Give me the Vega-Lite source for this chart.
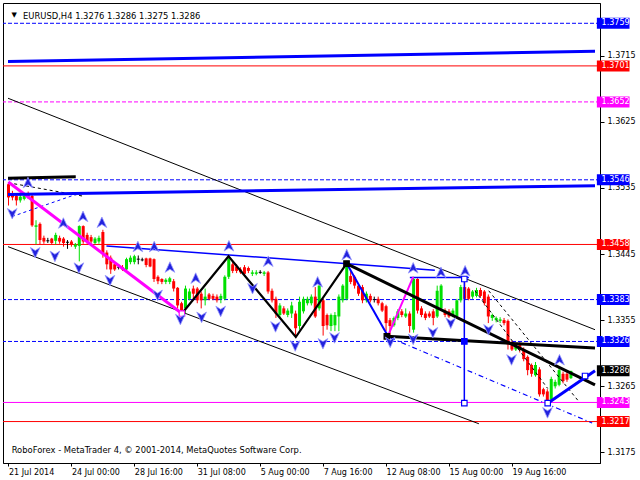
{
  "$schema": "https://vega.github.io/schema/vega-lite/v6.json",
  "width": 597,
  "height": 460,
  "autosize": "none",
  "padding": {"left": 3, "top": 3, "right": 40, "bottom": 17},
  "background": "#ffffff",
  "config": {
    "view": {"stroke": "#000000", "strokeWidth": 1},
    "font": "DejaVu Sans",
    "axis": {"grid": false, "domainColor": "#000000", "tickColor": "#000000", "labelColor": "#000000", "labelFont": "DejaVu Sans", "labelFontSize": 8, "title": null}
  },
  "datasets": {
    "candles": [
      {"t":0,"o":1.3540,"h":1.3543,"l":1.3511,"c":1.3522},
      {"t":1,"o":1.3526,"h":1.3531,"l":1.3518,"c":1.3522},
      {"t":2,"o":1.3524,"h":1.3527,"l":1.3511,"c":1.3518},
      {"t":3,"o":1.3518,"h":1.3526,"l":1.3515,"c":1.3523},
      {"t":4,"o":1.3520,"h":1.3527,"l":1.3518,"c":1.3524},
      {"t":5,"o":1.3527,"h":1.3530,"l":1.3520,"c":1.3523},
      {"t":6,"o":1.3524,"h":1.3526,"l":1.3482,"c":1.3484},
      {"t":7,"o":1.3482,"h":1.3491,"l":1.3458,"c":1.3484},
      {"t":8,"o":1.3486,"h":1.3488,"l":1.3458,"c":1.3464},
      {"t":9,"o":1.3467,"h":1.3470,"l":1.3459,"c":1.3462},
      {"t":10,"o":1.3463,"h":1.3467,"l":1.3460,"c":1.3463},
      {"t":11,"o":1.3466,"h":1.3467,"l":1.3458,"c":1.3460},
      {"t":12,"o":1.3463,"h":1.3474,"l":1.3458,"c":1.3471},
      {"t":13,"o":1.3467,"h":1.3470,"l":1.3459,"c":1.3462},
      {"t":14,"o":1.3466,"h":1.3468,"l":1.3455,"c":1.3460},
      {"t":15,"o":1.3461,"h":1.3464,"l":1.3452,"c":1.3461},
      {"t":16,"o":1.3462,"h":1.3464,"l":1.3455,"c":1.3458},
      {"t":17,"o":1.3455,"h":1.3460,"l":1.3452,"c":1.3458},
      {"t":18,"o":1.3456,"h":1.3484,"l":1.3435,"c":1.3483},
      {"t":19,"o":1.3483,"h":1.3484,"l":1.3459,"c":1.3462},
      {"t":20,"o":1.3471,"h":1.3474,"l":1.3459,"c":1.3462},
      {"t":21,"o":1.3468,"h":1.3471,"l":1.3459,"c":1.3462},
      {"t":22,"o":1.3460,"h":1.3468,"l":1.3458,"c":1.3466},
      {"t":23,"o":1.3462,"h":1.3470,"l":1.3459,"c":1.3467},
      {"t":24,"o":1.3475,"h":1.3478,"l":1.3440,"c":1.3446},
      {"t":25,"o":1.3447,"h":1.3450,"l":1.3424,"c":1.3431},
      {"t":26,"o":1.3440,"h":1.3443,"l":1.3418,"c":1.3424},
      {"t":27,"o":1.3431,"h":1.3434,"l":1.3422,"c":1.3424},
      {"t":28,"o":1.3427,"h":1.3431,"l":1.3424,"c":1.3427},
      {"t":29,"o":1.3427,"h":1.3430,"l":1.3422,"c":1.3424},
      {"t":30,"o":1.3424,"h":1.3440,"l":1.3422,"c":1.3438},
      {"t":31,"o":1.3434,"h":1.3443,"l":1.3431,"c":1.3440},
      {"t":32,"o":1.3434,"h":1.3444,"l":1.3431,"c":1.3442},
      {"t":33,"o":1.3438,"h":1.3443,"l":1.3431,"c":1.3438},
      {"t":34,"o":1.3437,"h":1.3440,"l":1.3435,"c":1.3437},
      {"t":35,"o":1.3439,"h":1.3440,"l":1.3427,"c":1.3430},
      {"t":36,"o":1.3439,"h":1.3440,"l":1.3427,"c":1.3428},
      {"t":37,"o":1.3438,"h":1.3439,"l":1.3407,"c":1.3411},
      {"t":38,"o":1.3414,"h":1.3416,"l":1.3404,"c":1.3408},
      {"t":39,"o":1.3411,"h":1.3412,"l":1.3404,"c":1.3407},
      {"t":40,"o":1.3407,"h":1.3412,"l":1.3404,"c":1.3410},
      {"t":41,"o":1.3407,"h":1.3414,"l":1.3404,"c":1.3412},
      {"t":42,"o":1.3408,"h":1.3411,"l":1.3394,"c":1.3398},
      {"t":43,"o":1.3399,"h":1.3400,"l":1.3371,"c":1.3375},
      {"t":44,"o":1.3378,"h":1.3380,"l":1.3363,"c":1.3368},
      {"t":45,"o":1.3371,"h":1.3402,"l":1.3364,"c":1.3398},
      {"t":46,"o":1.3384,"h":1.3398,"l":1.3382,"c":1.3394},
      {"t":47,"o":1.3398,"h":1.3402,"l":1.3384,"c":1.3391},
      {"t":48,"o":1.3398,"h":1.3400,"l":1.3378,"c":1.3382},
      {"t":49,"o":1.3391,"h":1.3394,"l":1.3371,"c":1.3382},
      {"t":50,"o":1.3382,"h":1.3398,"l":1.3375,"c":1.3387},
      {"t":51,"o":1.3390,"h":1.3392,"l":1.3382,"c":1.3384},
      {"t":52,"o":1.3388,"h":1.3391,"l":1.3382,"c":1.3384},
      {"t":53,"o":1.3387,"h":1.3390,"l":1.3379,"c":1.3382},
      {"t":54,"o":1.3384,"h":1.3391,"l":1.3378,"c":1.3388},
      {"t":55,"o":1.3384,"h":1.3416,"l":1.3382,"c":1.3414},
      {"t":56,"o":1.3414,"h":1.3442,"l":1.3411,"c":1.3438},
      {"t":57,"o":1.3431,"h":1.3434,"l":1.3419,"c":1.3422},
      {"t":58,"o":1.3428,"h":1.3431,"l":1.3419,"c":1.3422},
      {"t":59,"o":1.3424,"h":1.3427,"l":1.3418,"c":1.3420},
      {"t":60,"o":1.3427,"h":1.3430,"l":1.3415,"c":1.3418},
      {"t":61,"o":1.3426,"h":1.3428,"l":1.3419,"c":1.3422},
      {"t":62,"o":1.3418,"h":1.3423,"l":1.3415,"c":1.3420},
      {"t":63,"o":1.3418,"h":1.3423,"l":1.3416,"c":1.3420},
      {"t":64,"o":1.3420,"h":1.3423,"l":1.3418,"c":1.3420},
      {"t":65,"o":1.3418,"h":1.3422,"l":1.3415,"c":1.3420},
      {"t":66,"o":1.3420,"h":1.3422,"l":1.3391,"c":1.3394},
      {"t":67,"o":1.3395,"h":1.3398,"l":1.3379,"c":1.3382},
      {"t":68,"o":1.3384,"h":1.3387,"l":1.3358,"c":1.3364},
      {"t":69,"o":1.3362,"h":1.3378,"l":1.3358,"c":1.3375},
      {"t":70,"o":1.3371,"h":1.3374,"l":1.3362,"c":1.3364},
      {"t":71,"o":1.3362,"h":1.3371,"l":1.3359,"c":1.3368},
      {"t":72,"o":1.3364,"h":1.3380,"l":1.3358,"c":1.3375},
      {"t":73,"o":1.3364,"h":1.3368,"l":1.3331,"c":1.3344},
      {"t":74,"o":1.3347,"h":1.3387,"l":1.3342,"c":1.3380},
      {"t":75,"o":1.3367,"h":1.3387,"l":1.3364,"c":1.3384},
      {"t":76,"o":1.3378,"h":1.3387,"l":1.3375,"c":1.3384},
      {"t":77,"o":1.3378,"h":1.3390,"l":1.3375,"c":1.3387},
      {"t":78,"o":1.3387,"h":1.3400,"l":1.3358,"c":1.3360},
      {"t":79,"o":1.3371,"h":1.3406,"l":1.3368,"c":1.3402},
      {"t":80,"o":1.3382,"h":1.3384,"l":1.3334,"c":1.3347},
      {"t":81,"o":1.3362,"h":1.3364,"l":1.3342,"c":1.3348},
      {"t":82,"o":1.3347,"h":1.3364,"l":1.3340,"c":1.3362},
      {"t":83,"o":1.3348,"h":1.3366,"l":1.3340,"c":1.3362},
      {"t":84,"o":1.3360,"h":1.3390,"l":1.3340,"c":1.3387},
      {"t":85,"o":1.3382,"h":1.3404,"l":1.3379,"c":1.3402},
      {"t":86,"o":1.3384,"h":1.3434,"l":1.3382,"c":1.3428},
      {"t":87,"o":1.3415,"h":1.3422,"l":1.3404,"c":1.3407},
      {"t":88,"o":1.3414,"h":1.3416,"l":1.3398,"c":1.3402},
      {"t":89,"o":1.3402,"h":1.3404,"l":1.3388,"c":1.3391},
      {"t":90,"o":1.3400,"h":1.3403,"l":1.3378,"c":1.3382},
      {"t":91,"o":1.3382,"h":1.3394,"l":1.3379,"c":1.3391},
      {"t":92,"o":1.3388,"h":1.3391,"l":1.3379,"c":1.3382},
      {"t":93,"o":1.3383,"h":1.3387,"l":1.3379,"c":1.3383},
      {"t":94,"o":1.3384,"h":1.3387,"l":1.3375,"c":1.3378},
      {"t":95,"o":1.3378,"h":1.3380,"l":1.3366,"c":1.3368},
      {"t":96,"o":1.3374,"h":1.3376,"l":1.3340,"c":1.3351},
      {"t":97,"o":1.3355,"h":1.3358,"l":1.3334,"c":1.3347},
      {"t":98,"o":1.3348,"h":1.3360,"l":1.3346,"c":1.3358},
      {"t":99,"o":1.3358,"h":1.3370,"l":1.3355,"c":1.3367},
      {"t":100,"o":1.3367,"h":1.3370,"l":1.3359,"c":1.3362},
      {"t":101,"o":1.3360,"h":1.3371,"l":1.3358,"c":1.3364},
      {"t":102,"o":1.3364,"h":1.3367,"l":1.3338,"c":1.3347},
      {"t":103,"o":1.3342,"h":1.3414,"l":1.3338,"c":1.3411},
      {"t":104,"o":1.3411,"h":1.3412,"l":1.3364,"c":1.3368},
      {"t":105,"o":1.3371,"h":1.3374,"l":1.3359,"c":1.3362},
      {"t":106,"o":1.3364,"h":1.3367,"l":1.3355,"c":1.3358},
      {"t":107,"o":1.3364,"h":1.3367,"l":1.3358,"c":1.3360},
      {"t":108,"o":1.3367,"h":1.3370,"l":1.3348,"c":1.3358},
      {"t":109,"o":1.3360,"h":1.3402,"l":1.3358,"c":1.3395},
      {"t":110,"o":1.3371,"h":1.3404,"l":1.3368,"c":1.3402},
      {"t":111,"o":1.3368,"h":1.3371,"l":1.3359,"c":1.3362},
      {"t":112,"o":1.3367,"h":1.3370,"l":1.3358,"c":1.3360},
      {"t":113,"o":1.3362,"h":1.3371,"l":1.3359,"c":1.3368},
      {"t":114,"o":1.3360,"h":1.3384,"l":1.3358,"c":1.3382},
      {"t":115,"o":1.3382,"h":1.3403,"l":1.3379,"c":1.3400},
      {"t":116,"o":1.3400,"h":1.3414,"l":1.3382,"c":1.3384},
      {"t":117,"o":1.3398,"h":1.3400,"l":1.3382,"c":1.3384},
      {"t":118,"o":1.3387,"h":1.3396,"l":1.3384,"c":1.3394},
      {"t":119,"o":1.3388,"h":1.3399,"l":1.3386,"c":1.3396},
      {"t":120,"o":1.3396,"h":1.3399,"l":1.3386,"c":1.3388},
      {"t":121,"o":1.3394,"h":1.3396,"l":1.3375,"c":1.3378},
      {"t":122,"o":1.3387,"h":1.3390,"l":1.3351,"c":1.3360},
      {"t":123,"o":1.3358,"h":1.3364,"l":1.3354,"c":1.3362},
      {"t":124,"o":1.3355,"h":1.3360,"l":1.3352,"c":1.3358},
      {"t":125,"o":1.3354,"h":1.3359,"l":1.3351,"c":1.3356},
      {"t":126,"o":1.3355,"h":1.3358,"l":1.3348,"c":1.3351},
      {"t":127,"o":1.3354,"h":1.3356,"l":1.3315,"c":1.3322},
      {"t":128,"o":1.3325,"h":1.3327,"l":1.3313,"c":1.3315},
      {"t":129,"o":1.3315,"h":1.3323,"l":1.3313,"c":1.3321},
      {"t":130,"o":1.3322,"h":1.3325,"l":1.3311,"c":1.3315},
      {"t":131,"o":1.3315,"h":1.3318,"l":1.3299,"c":1.3302},
      {"t":132,"o":1.3305,"h":1.3307,"l":1.3280,"c":1.3287},
      {"t":133,"o":1.3294,"h":1.3296,"l":1.3278,"c":1.3282},
      {"t":134,"o":1.3280,"h":1.3298,"l":1.3278,"c":1.3294},
      {"t":135,"o":1.3288,"h":1.3291,"l":1.3251,"c":1.3254},
      {"t":136,"o":1.3261,"h":1.3263,"l":1.3251,"c":1.3254},
      {"t":137,"o":1.3258,"h":1.3261,"l":1.3241,"c":1.3245},
      {"t":138,"o":1.3247,"h":1.3278,"l":1.3245,"c":1.3275},
      {"t":139,"o":1.3265,"h":1.3274,"l":1.3262,"c":1.3271},
      {"t":140,"o":1.3267,"h":1.3291,"l":1.3265,"c":1.3287},
      {"t":141,"o":1.3282,"h":1.3285,"l":1.3269,"c":1.3272},
      {"t":142,"o":1.3282,"h":1.3285,"l":1.3271,"c":1.3274},
      {"t":143,"o":1.3276,"h":1.3286,"l":1.3275,"c":1.3286}
    ],
    "levels": [
      {"p":1.3759,"kind":"level"},
      {"p":1.3701,"kind":"stop"},
      {"p":1.3652,"kind":"target"},
      {"p":1.3546,"kind":"level"},
      {"p":1.3458,"kind":"stop"},
      {"p":1.3383,"kind":"level"},
      {"p":1.3326,"kind":"level"},
      {"p":1.3286,"kind":"bid"},
      {"p":1.3243,"kind":"final"},
      {"p":1.3217,"kind":"stop"}
    ],
    "blueTrend": [
      {"id":"a","t":-0.125,"p":1.3707},{"id":"a","t":149.125,"p":1.3721},
      {"id":"b","t":-0.125,"p":1.3526},{"id":"b","t":149.125,"p":1.3538},
      {"id":"c","t":137.1,"p":1.3242},{"id":"c","t":149.125,"p":1.3286}
    ],
    "blueThin": [
      {"id":"a","t":24.9,"p":1.3456},{"id":"a","t":108.4,"p":1.3423},
      {"id":"b","t":102.05,"p":1.3413},{"id":"b","t":117.05,"p":1.3413},
      {"id":"c","t":115.9,"p":1.3414},{"id":"c","t":115.9,"p":1.3242}
    ],
    "blueWave": [
      {"id":"a","t":86.1,"p":1.3431},{"id":"a","t":96.4,"p":1.3334}
    ],
    "blackWave": [
      {"id":"a","t":44.1,"p":1.3364},{"id":"a","t":55.95,"p":1.3442},{"id":"a","t":73.05,"p":1.3332},{"id":"a","t":85.95,"p":1.3432}
    ],
    "blackTrend": [
      {"id":"a","t":-0.125,"p":1.3548},{"id":"a","t":17.1,"p":1.3550},
      {"id":"b","t":85.95,"p":1.3432},{"id":"b","t":149.125,"p":1.3267},
      {"id":"c","t":96.2,"p":1.3333},{"id":"c","t":149.125,"p":1.3317}
    ],
    "channel": [
      {"id":"a","t":-0.125,"p":1.3657},{"id":"a","t":149.125,"p":1.3342},
      {"id":"b","t":-0.125,"p":1.3455},{"id":"b","t":119.6,"p":1.3214}
    ],
    "pinkTrend": [
      {"id":"a","t":-0.05,"p":1.3543},{"id":"a","t":44.1,"p":1.3364}
    ],
    "pinkWave": [
      {"id":"a","t":96.6,"p":1.3335},{"id":"a","t":102.9,"p":1.3414}
    ],
    "blackDash": [
      {"id":"a","t":-0.05,"p":1.3542},{"id":"a","t":18.7,"p":1.3524},
      {"id":"b","t":118.6,"p":1.3395},{"id":"b","t":137.1,"p":1.3262},
      {"id":"c","t":122.1,"p":1.3395},{"id":"c","t":144.9,"p":1.3245}
    ],
    "blueDash": [
      {"id":"a","t":0.9,"p":1.3496},{"id":"a","t":17.1,"p":1.3526}
    ],
    "blueDashDot": [
      {"id":"a","t":97.05,"p":1.3331},{"id":"a","t":148.4,"p":1.3215}
    ],
    "anchors": [
      {"t":115.9,"p":1.3411,"kind":"blue"},
      {"t":115.9,"p":1.3242,"kind":"blue"},
      {"t":137.1,"p":1.3242,"kind":"blue"},
      {"t":146.6,"p":1.3279,"kind":"blue"},
      {"t":115.9,"p":1.3326,"kind":"bluefill"},
      {"t":85.95,"p":1.3432,"kind":"black"},
      {"t":96.2,"p":1.3333,"kind":"black"},
      {"t":44.1,"p":1.3364,"kind":"pink"}
    ],
    "fractals": [
      {"t":4.95,"p":1.3542,"dir":"up"},{"t":13.95,"p":1.3487,"dir":"up"},{"t":18.95,"p":1.3496,"dir":"up"},
      {"t":23.75,"p":1.3488,"dir":"up"},{"t":32.9,"p":1.3455,"dir":"up"},{"t":37.05,"p":1.3455,"dir":"up"},
      {"t":41.05,"p":1.3427,"dir":"up"},{"t":47.6,"p":1.3412,"dir":"up"},{"t":56.05,"p":1.3456,"dir":"up"},
      {"t":66.05,"p":1.3435,"dir":"up"},{"t":78.6,"p":1.3407,"dir":"up"},{"t":86,"p":1.3444,"dir":"up"},
      {"t":102.9,"p":1.3426,"dir":"up"},{"t":109.95,"p":1.3420,"dir":"up"},{"t":116.1,"p":1.3422,"dir":"up"},
      {"t":140.1,"p":1.3301,"dir":"up"},
      {"t":0.95,"p":1.3500,"dir":"down"},{"t":6.8,"p":1.3447,"dir":"down"},{"t":11.8,"p":1.3442,"dir":"down"},
      {"t":17.9,"p":1.3426,"dir":"down"},{"t":25.8,"p":1.3409,"dir":"down"},{"t":37.9,"p":1.3389,"dir":"down"},
      {"t":43.7,"p":1.3356,"dir":"down"},{"t":49.1,"p":1.3359,"dir":"down"},{"t":53.95,"p":1.3367,"dir":"down"},
      {"t":62.05,"p":1.3398,"dir":"down"},{"t":67.9,"p":1.3346,"dir":"down"},{"t":72.9,"p":1.3320,"dir":"down"},
      {"t":79.95,"p":1.3323,"dir":"down"},{"t":82.9,"p":1.3331,"dir":"down"},{"t":97.05,"p":1.3325,"dir":"down"},
      {"t":102.9,"p":1.3329,"dir":"down"},{"t":107.9,"p":1.3338,"dir":"down"},{"t":112.45,"p":1.3351,"dir":"down"},
      {"t":122.05,"p":1.3342,"dir":"down"},{"t":127.9,"p":1.3301,"dir":"down"},{"t":137.05,"p":1.3229,"dir":"down"}
    ]
  },
  "layer": [
    {
      "data": {"name": "levels"},
      "transform": [{"filter": "datum.kind != 'bid'"}],
      "mark": {"type": "rule", "strokeWidth": 1},
      "encoding": {
        "y": {"field": "p", "type": "quantitative", "scale": {"domain": [1.31674, 1.37798], "nice": false, "zero": false},
          "axis": {"orient": "right", "values": [1.3760, 1.3715, 1.3670, 1.3625, 1.3580, 1.3535, 1.3490, 1.3445, 1.3400, 1.3355, 1.3310, 1.3265, 1.3220, 1.3175], "format": ".4f", "tickSize": 4, "labelPadding": 3, "labelFontSize": 8, "title": null}},
        "color": {"field": "kind", "type": "nominal", "scale": {"domain": ["level", "stop", "target", "final", "bid"], "range": ["#0000ff", "#ff0000", "#ff00ff", "#ff00ff", "#000000"]}, "legend": null},
        "strokeDash": {"field": "kind", "type": "nominal", "scale": {"domain": ["level", "stop", "target", "final"], "range": [[4, 2], [1, 0], [4, 2], [1, 0]]}, "legend": null}
      }
    },
    {
      "data": {"name": "candles"},
      "mark": {"type": "rule", "strokeWidth": 1, "clip": true},
      "encoding": {
        "x": {"field": "t", "type": "quantitative", "scale": {"domain": [-0.125, 149.125], "nice": false, "zero": false},
          "axis": {"values": [0, 16, 32, 48, 64, 80, 96, 112, 128], "labelExpr": "['21 Jul 2014','24 Jul 00:00','28 Jul 16:00','31 Jul 08:00','5 Aug 00:00','7 Aug 16:00','12 Aug 08:00','15 Aug 00:00','19 Aug 16:00'][round(datum.value/16)]", "labelAlign": "left", "labelBaseline": "top", "labelFlush": false, "labelOverlap": false, "tickSize": 3, "labelPadding": 2, "labelFontSize": 8, "title": null}},
        "y": {"field": "l", "type": "quantitative"},
        "y2": {"field": "h"},
        "color": {"condition": [{"test": "datum.c > datum.o", "value": "#00e000"}, {"test": "datum.c < datum.o", "value": "#ff0000"}], "value": "#000000"}
      }
    },
    {
      "data": {"name": "candles"},
      "transform": [{"filter": "datum.c != datum.o"}],
      "mark": {"type": "bar", "size": 3, "orient": "vertical", "clip": true},
      "encoding": {
        "x": {"field": "t", "type": "quantitative"},
        "y": {"field": "o", "type": "quantitative"},
        "y2": {"field": "c"},
        "color": {"condition": [{"test": "datum.c > datum.o", "value": "#00e000"}], "value": "#ff0000"}
      }
    },
    {
      "data": {"name": "candles"},
      "transform": [{"filter": "datum.c == datum.o"}],
      "mark": {"type": "point", "shape": "M-1,0L1,0", "size": 9, "filled": false, "strokeWidth": 1, "color": "#000000", "opacity": 1},
      "encoding": {
        "x": {"field": "t", "type": "quantitative"},
        "y": {"field": "o", "type": "quantitative"}
      }
    },
    {
      "data": {"name": "channel"},
      "mark": {"type": "line", "color": "#000000", "strokeWidth": 1, "clip": true},
      "encoding": {"x": {"field": "t", "type": "quantitative"}, "y": {"field": "p", "type": "quantitative"}, "detail": {"field": "id"}}
    },
    {
      "data": {"name": "blackDash"},
      "mark": {"type": "line", "color": "#000000", "strokeWidth": 1, "strokeDash": [3, 3], "clip": true},
      "encoding": {"x": {"field": "t", "type": "quantitative"}, "y": {"field": "p", "type": "quantitative"}, "detail": {"field": "id"}}
    },
    {
      "data": {"name": "blueDash"},
      "mark": {"type": "line", "color": "#0000ff", "strokeWidth": 1, "strokeDash": [3, 3], "clip": true},
      "encoding": {"x": {"field": "t", "type": "quantitative"}, "y": {"field": "p", "type": "quantitative"}, "detail": {"field": "id"}}
    },
    {
      "data": {"name": "blueDashDot"},
      "mark": {"type": "line", "color": "#0000ff", "strokeWidth": 1.2, "strokeDash": [5, 3, 1, 3], "clip": true},
      "encoding": {"x": {"field": "t", "type": "quantitative"}, "y": {"field": "p", "type": "quantitative"}, "detail": {"field": "id"}}
    },
    {
      "data": {"name": "blueThin"},
      "mark": {"type": "line", "color": "#0000ff", "strokeWidth": 1.5, "clip": true},
      "encoding": {"x": {"field": "t", "type": "quantitative"}, "y": {"field": "p", "type": "quantitative"}, "detail": {"field": "id"}}
    },
    {
      "data": {"name": "blueWave"},
      "mark": {"type": "line", "color": "#0000ff", "strokeWidth": 2, "clip": true},
      "encoding": {"x": {"field": "t", "type": "quantitative"}, "y": {"field": "p", "type": "quantitative"}, "detail": {"field": "id"}}
    },
    {
      "data": {"name": "pinkWave"},
      "mark": {"type": "line", "color": "#ff00ff", "strokeWidth": 2, "clip": true},
      "encoding": {"x": {"field": "t", "type": "quantitative"}, "y": {"field": "p", "type": "quantitative"}, "detail": {"field": "id"}}
    },
    {
      "data": {"name": "pinkTrend"},
      "mark": {"type": "line", "color": "#ff00ff", "strokeWidth": 3, "clip": true},
      "encoding": {"x": {"field": "t", "type": "quantitative"}, "y": {"field": "p", "type": "quantitative"}, "detail": {"field": "id"}}
    },
    {
      "data": {"name": "blackWave"},
      "mark": {"type": "line", "color": "#000000", "strokeWidth": 2.2, "clip": true},
      "encoding": {"x": {"field": "t", "type": "quantitative"}, "y": {"field": "p", "type": "quantitative"}, "detail": {"field": "id"}}
    },
    {
      "data": {"name": "blackTrend"},
      "mark": {"type": "line", "color": "#000000", "strokeWidth": 3, "clip": true},
      "encoding": {"x": {"field": "t", "type": "quantitative"}, "y": {"field": "p", "type": "quantitative"}, "detail": {"field": "id"}}
    },
    {
      "data": {"name": "blueTrend"},
      "mark": {"type": "line", "color": "#0000ff", "strokeWidth": 3, "clip": true},
      "encoding": {"x": {"field": "t", "type": "quantitative"}, "y": {"field": "p", "type": "quantitative"}, "detail": {"field": "id"}}
    },
    {
      "data": {"name": "anchors"},
      "mark": {"type": "point", "shape": "square", "size": 30, "strokeWidth": 1.2, "opacity": 1},
      "encoding": {
        "x": {"field": "t", "type": "quantitative"},
        "y": {"field": "p", "type": "quantitative"},
        "stroke": {"field": "kind", "type": "nominal", "scale": {"domain": ["blue", "bluefill", "black", "pink"], "range": ["#0000ff", "#0000ff", "#000000", "#ff00ff"]}, "legend": null},
        "fill": {"field": "kind", "type": "nominal", "scale": {"domain": ["blue", "bluefill", "black", "pink"], "range": ["#ffffff", "#0000ff", "#000000", "#ffffff"]}, "legend": null}
      }
    },
    {
      "data": {"name": "fractals"},
      "mark": {"type": "point", "filled": true, "size": 130, "stroke": "#9a9aff", "strokeWidth": 0.8, "opacity": 1, "fill": "#2222dd"},
      "encoding": {
        "x": {"field": "t", "type": "quantitative"},
        "y": {"field": "p", "type": "quantitative"},
        "shape": {"field": "dir", "type": "nominal", "scale": {"domain": ["up", "down"], "range": ["M0,-0.95L0.85,0.9L0,0.35L-0.85,0.9Z", "M0,0.95L0.85,-0.9L0,-0.35L-0.85,-0.9Z"]}, "legend": null}
      }
    },
    {
      "data": {"name": "levels"},
      "mark": {"type": "bar", "orient": "horizontal", "size": 11},
      "encoding": {
        "y": {"field": "p", "type": "quantitative"},
        "x": {"datum": 149.6, "type": "quantitative"},
        "x2": {"datum": 157.9},
        "color": {"field": "kind", "type": "nominal", "legend": null}
      }
    },
    {
      "data": {"name": "levels"},
      "mark": {"type": "text", "align": "left", "baseline": "middle", "font": "DejaVu Sans", "fontSize": 8, "color": "#ffffff"},
      "encoding": {
        "y": {"field": "p", "type": "quantitative"},
        "x": {"datum": 150.8, "type": "quantitative"},
        "text": {"field": "p", "type": "quantitative", "format": ".4f"}
      }
    },
    {
      "data": {"values": [{"label": "\u25bc"}]},
      "mark": {"type": "text", "align": "center", "baseline": "middle", "font": "DejaVu Sans", "fontSize": 7, "color": "#000000"},
      "encoding": {
        "x": {"datum": 1.45, "type": "quantitative"},
        "y": {"datum": 1.37696, "type": "quantitative"},
        "text": {"field": "label"}
      }
    },
    {
      "data": {"values": [{"label": "EURUSD,H4  1.3276 1.3286 1.3275 1.3286"}]},
      "mark": {"type": "text", "align": "left", "baseline": "alphabetic", "font": "DejaVu Sans", "fontSize": 8.4, "color": "#000000"},
      "encoding": {
        "x": {"datum": 3.7, "type": "quantitative"},
        "y": {"datum": 1.37652, "type": "quantitative"},
        "text": {"field": "label"}
      }
    },
    {
      "data": {"values": [{"label": "RoboForex - MetaTrader 4, \u00a9 2001-2014, MetaQuotes Software Corp."}]},
      "mark": {"type": "text", "align": "left", "baseline": "alphabetic", "font": "DejaVu Sans", "fontSize": 8.4, "color": "#000000"},
      "encoding": {
        "x": {"datum": 0.8, "type": "quantitative"},
        "y": {"datum": 1.3174, "type": "quantitative"},
        "text": {"field": "label"}
      }
    }
  ]
}
